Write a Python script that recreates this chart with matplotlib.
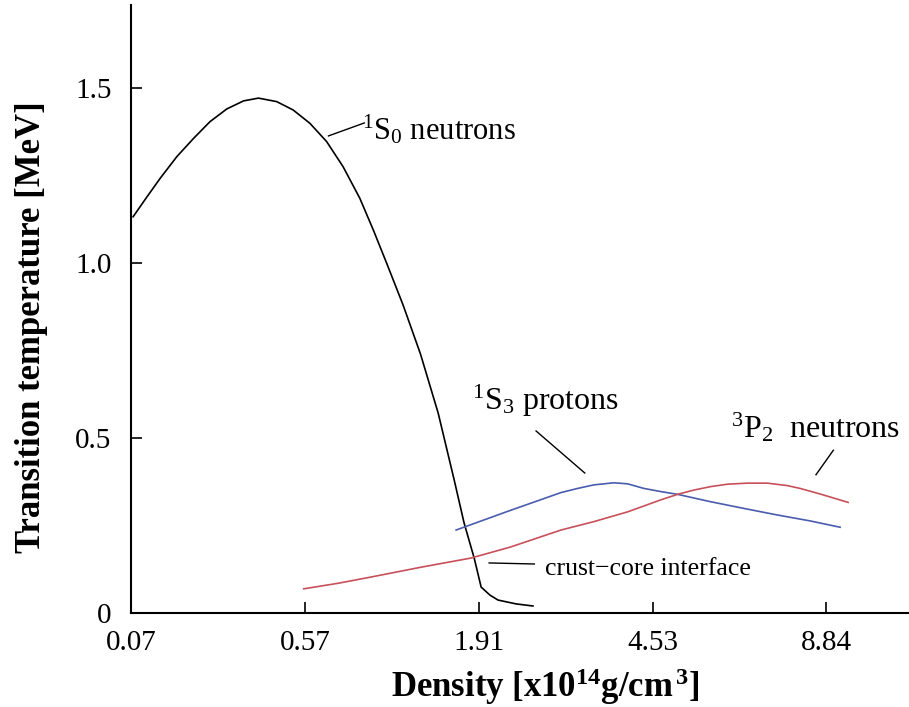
import matplotlib.pyplot as plt
import numpy as np

plt.rcParams['font.family'] = ['Liberation Serif', 'DejaVu Serif']
plt.rcParams['mathtext.fontset'] = 'custom'
plt.rcParams['mathtext.rm'] = 'Liberation Serif'
plt.rcParams['mathtext.it'] = 'Liberation Serif:italic'
plt.rcParams['mathtext.bf'] = 'Liberation Serif:bold'

# x positions are equally spaced tick slots, labelled with density
density_labels = ['0.07', '0.57', '1.91', '4.53', '8.84']
density_pos = [0, 1, 2, 3, 4]

# 1S0 neutrons
s0_x = [0.012, 0.092, 0.168, 0.264, 0.360, 0.455, 0.551, 0.647, 0.733, 0.838,
        0.933, 1.029, 1.125, 1.220, 1.316, 1.394, 1.470, 1.565, 1.665, 1.767,
        1.859, 1.916, 1.974, 2.014, 2.065, 2.111, 2.215, 2.312]
s0_T = [1.132, 1.189, 1.242, 1.304, 1.356, 1.404, 1.440, 1.463, 1.471, 1.461,
        1.437, 1.399, 1.347, 1.275, 1.185, 1.094, 1.000, 0.880, 0.740, 0.571,
        0.380, 0.257, 0.157, 0.074, 0.051, 0.037, 0.026, 0.020]

# 1S3 protons
p_x = [1.870, 2.170, 2.473, 2.570, 2.662, 2.777, 2.857, 2.949, 3.046, 3.144,
       3.333, 3.523, 3.718, 3.907, 4.079]
p_T = [0.237, 0.291, 0.344, 0.356, 0.366, 0.372, 0.369, 0.356, 0.347, 0.339,
       0.318, 0.299, 0.280, 0.263, 0.245]

# 3P2 neutrons
n_x = [0.993, 1.192, 1.383, 1.670, 1.956, 2.186, 2.473, 2.662, 2.857, 3.046,
       3.144, 3.236, 3.333, 3.431, 3.546, 3.660, 3.775, 3.848, 3.964, 4.125]
n_T = [0.069, 0.085, 0.103, 0.131, 0.157, 0.189, 0.237, 0.261, 0.289, 0.323,
       0.339, 0.351, 0.361, 0.368, 0.371, 0.371, 0.364, 0.356, 0.340, 0.316]

fig = plt.figure(figsize=(9.09, 7.07), dpi=100)
ax = fig.add_axes([131 / 909, 94 / 707, 778 / 909, 608 / 707])

ax.plot(s0_x, s0_T, color='black', lw=1.2)
ax.plot(p_x, p_T, color='#4a5cae', lw=1.2)
ax.plot(n_x, n_T, color='#c8505a', lw=1.2)

ax.set_xlim(0.0115, 0.0115 + 778 / 174.3)
ax.set_ylim(0, 1.737)
ax.spines['top'].set_visible(False)
ax.spines['right'].set_visible(False)
ax.spines['left'].set_linewidth(1.5)
ax.spines['bottom'].set_linewidth(1.5)

ax.set_xticks(density_pos)
ax.set_xticklabels(density_labels)
ax.set_yticks([0, 0.5, 1.0, 1.5])
ax.set_yticklabels(['0', '0.5', '1.0', '1.5'])
ax.tick_params(direction='in', length=8, width=1.2, labelsize=21)
ax.tick_params(axis='y', pad=14)
ax.tick_params(axis='x', pad=12)

ax.set_xlabel(r'Density [x10$^{\mathbf{14}}$g/cm$^{\,\mathbf{3}}$]', fontsize=25,
              fontweight='bold')
ax.xaxis.set_label_coords(0.533, -0.088)
ax.set_ylabel('Transition temperature [MeV]', fontsize=25, fontweight='bold')
ax.yaxis.set_label_coords(-0.107, 0.47)

# labels with pointer lines
ax.plot([1.136, 1.342], [1.363, 1.40], color='black', lw=1)
ax.text(1.33, 1.38, r'$^{1}$S$_{0}$ neutrons', fontsize=22, va='center')

ax.plot([2.33, 2.61], [0.52, 0.40], color='black', lw=1)
ax.text(1.96, 0.605, r'$^{1}$S$_{3}$ protons', fontsize=23, va='center')

ax.plot([4.04, 3.94], [0.465, 0.395], color='black', lw=1)
ax.text(3.45, 0.53, r'$^{3}$P$_{2}$  neutrons', fontsize=23, va='center')

ax.plot([2.06, 2.32], [0.143, 0.140], color='black', lw=1)
ax.text(2.38, 0.125, 'crust\u2212core interface', fontsize=18.5, va='center')

fig.savefig('out.png', dpi=100)
